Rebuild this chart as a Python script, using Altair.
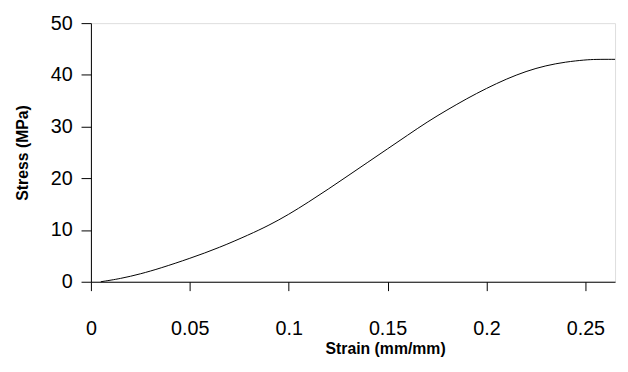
import altair as alt
import pandas as pd

strain = [0.005, 0.015, 0.025, 0.035, 0.050, 0.065, 0.080, 0.090, 0.100, 0.110,
          0.120, 0.130, 0.140, 0.150, 0.160, 0.170, 0.180, 0.190, 0.200, 0.210,
          0.220, 0.230, 0.240, 0.250, 0.255, 0.265]
stress = [0.0, 0.6, 1.5, 2.6, 4.5, 6.6, 9.1, 10.9, 13.0, 15.4,
          17.9, 20.5, 23.1, 25.7, 28.3, 30.9, 33.2, 35.4, 37.4, 39.2,
          40.7, 41.8, 42.5, 42.9, 43.0, 43.0]
x_ticks = [0, 0.05, 0.1, 0.15, 0.2, 0.25]
y_ticks = [0, 10, 20, 30, 40, 50]

df = pd.DataFrame({"strain": strain, "stress": stress})

FONT = "Liberation Sans"

chart = alt.Chart(df).mark_line(color="black", strokeWidth=1,
                                interpolate="basis").encode(
    x=alt.X("strain:Q",
            scale=alt.Scale(domain=[0, 0.265], nice=False, zero=False),
            axis=alt.Axis(values=x_ticks, format="~g", title="Strain (mm/mm)",
                          grid=False, tickSize=9, labelPadding=28,
                          labelFontSize=20, labelFont=FONT, labelColor="black",
                          titleFont=FONT, titleFontSize=16, titleFontWeight="bold",
                          titleColor="black", titleX=298, titleY=73,
                          titleBaseline="alphabetic",
                          domainColor="black", tickColor="black",
                          labelFlush=False, labelOverlap=False)),
    y=alt.Y("stress:Q",
            scale=alt.Scale(domain=[0, 50], nice=False),
            axis=alt.Axis(values=y_ticks, format="d", title="Stress (MPa)",
                          grid=False, tickSize=10, labelPadding=9,
                          labelFontSize=20, labelFont=FONT, labelColor="black",
                          titleFont=FONT, titleFontSize=16, titleFontWeight="bold",
                          titleColor="black", titleX=-69, titleY=131,
                          titleAngle=-90, titleBaseline="middle",
                          domainColor="black", tickColor="black",
                          labelFlush=False, labelOverlap=False)),
).properties(
    width=531, height=262,
    autosize=alt.AutoSizeParams(type="none"),
    padding={"left": 84, "top": 13, "right": 5, "bottom": 80},
).configure_view(stroke=None).configure(background="white")

chart.save("out.html", embed_options={"renderer": "svg", "actions": False})
